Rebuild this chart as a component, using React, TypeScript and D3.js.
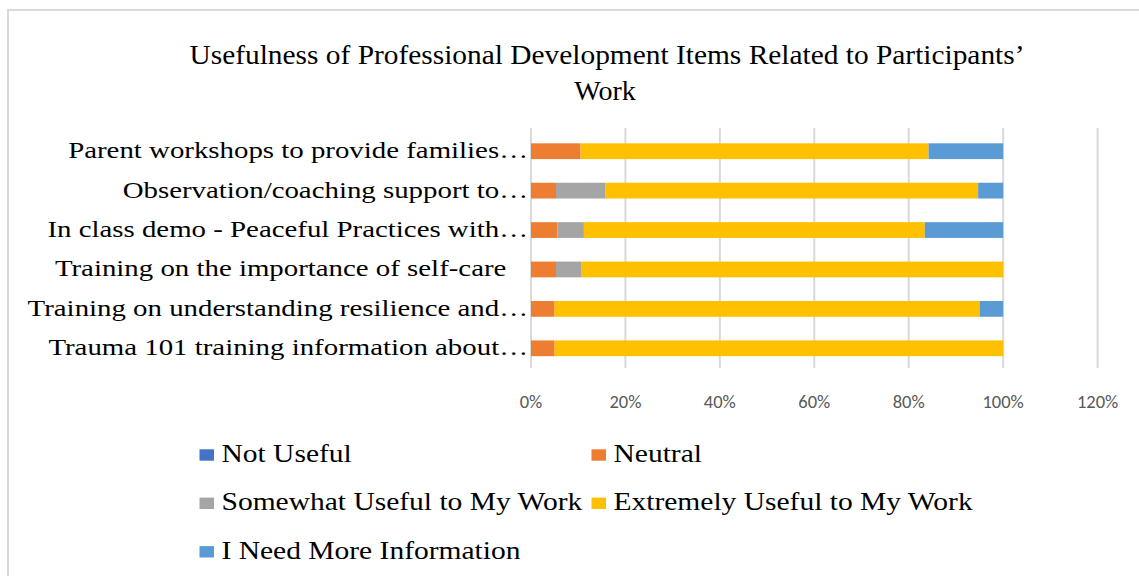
import React from "react";
import * as d3 from "d3";

const categories = [
  "Parent workshops to provide families…",
  "Observation/coaching support to…",
  "In class demo - Peaceful Practices with…",
  "Training on the importance of self-care   ",
  "Training on understanding resilience and…",
  "Trauma 101 training information about…",
];
const seriesNames = [
  "Not Useful",
  "Neutral",
  "Somewhat Useful to My Work",
  "Extremely Useful to My Work",
  "I Need More Information",
];
const seriesColors = ["#4472C4", "#ED7D31", "#A5A5A5", "#FFC000", "#5B9BD5"];
const notUseful = [0, 0, 0, 0, 0, 0];
const neutral = [0.105, 0.053, 0.056, 0.053, 0.05, 0.05];
const somewhat = [0, 0.105, 0.056, 0.053, 0, 0];
const extremely = [0.737, 0.789, 0.722, 0.894, 0.9, 0.95];
const needInfo = [0.158, 0.053, 0.166, 0, 0.05, 0];
const xTicks = [0, 0.2, 0.4, 0.6, 0.8, 1.0, 1.2];

const W = 1139;
const H = 576;
const SERIF = "'Liberation Serif', 'Times New Roman', serif";

export default function App() {
  const x = d3.scaleLinear().domain([0, 1.2]).range([531, 1097.6]);
  const y = d3.scaleBand().domain(categories).range([131.5, 368]).paddingInner(0.6).paddingOuter(0.3);
  const rows = categories.map((c, i) => ({
    cat: c,
    vals: [notUseful[i], neutral[i], somewhat[i], extremely[i], needInfo[i]],
  }));
  const stack = d3.stack<any>().keys([0, 1, 2, 3, 4] as any).value((d: any, k: any) => d.vals[k]);
  const stacked = stack(rows as any);
  const fmt = d3.format(".0%");
  const legendPos = [
    [199.5, 461.7],
    [591.5, 461.7],
    [199.5, 510],
    [591.5, 510],
    [199.5, 558.5],
  ];
  return (
    <svg width={W} height={H} style={{ position: "absolute", left: 0, top: 0, background: "#fff" }}>
      <rect x={0} y={0} width={W} height={H} fill="#fff" />
      <path d={`M8,${H} L8,10 L${W},10`} fill="none" stroke="#d9d9d9" strokeWidth={2} />
      <g fontFamily={SERIF} fill="#000">
        <text x={607} y={64} fontSize={28} textAnchor="middle" textLength={835} lengthAdjust="spacingAndGlyphs">
          Usefulness of Professional Development Items Related to Participants’
        </text>
        <text x={605} y={100} fontSize={28} textAnchor="middle">
          Work
        </text>
      </g>
      {xTicks.map((t) => (
        <line key={t} x1={x(t)} x2={x(t)} y1={128} y2={368} stroke="#d9d9d9" strokeWidth={2} />
      ))}
      {stacked.map((s, si) => (
        <g key={si} fill={seriesColors[si]}>
          {s.map((d: any, i) => (
            <rect
              key={i}
              x={x(d[0])}
              y={y(categories[i])}
              width={Math.max(0, x(d[1]) - x(d[0]))}
              height={y.bandwidth()}
            />
          ))}
        </g>
      ))}
      <g fontFamily={SERIF} fontSize={23} fill="#000">
        {categories.map((c) => (
          <text
            key={c}
            transform={`translate(528,${(y(c) as number) + y.bandwidth() / 2}) scale(1.255,1)`}
            dy="0.3em"
            textAnchor="end"
            style={{ whiteSpace: "pre" }}
          >
            {c}
          </text>
        ))}
      </g>
      <g fontFamily="Carlito, Calibri, 'Liberation Sans', sans-serif" fontSize={18.5} fill="#595959">
        {xTicks.map((t) => (
          <text key={t} x={x(t)} y={408} textAnchor="middle">
            {fmt(t)}
          </text>
        ))}
      </g>
      <g fontFamily={SERIF} fontSize={26} fill="#000">
        {seriesNames.map((n, i) => (
          <g key={n}>
            <rect x={legendPos[i][0]} y={legendPos[i][1] - 12.4} width={14.5} height={11.4} fill={seriesColors[i]} />
            <text transform={`translate(${legendPos[i][0] + 22},${legendPos[i][1]}) scale(1.135,1)`}>{n}</text>
          </g>
        ))}
      </g>
    </svg>
  );
}
